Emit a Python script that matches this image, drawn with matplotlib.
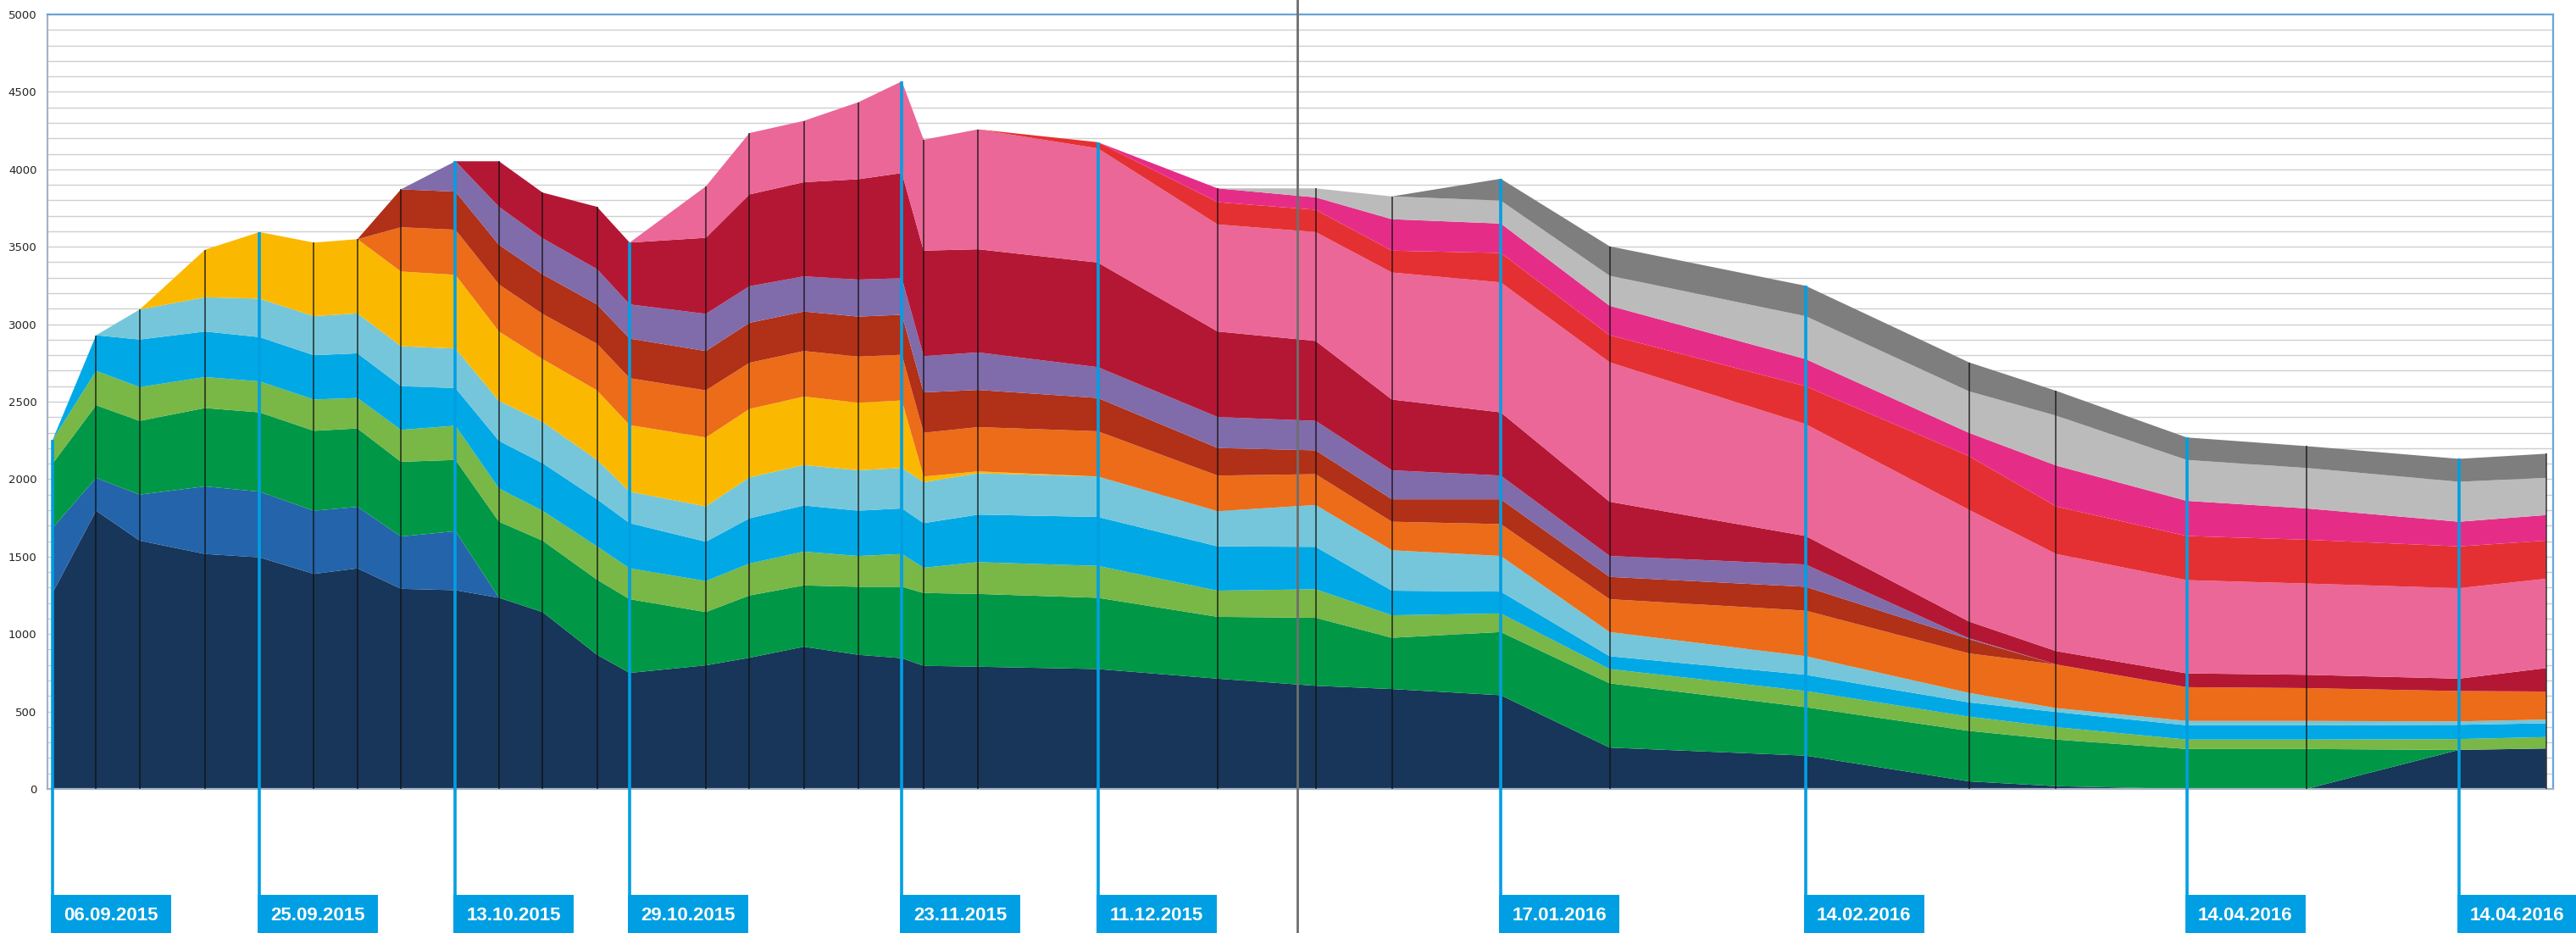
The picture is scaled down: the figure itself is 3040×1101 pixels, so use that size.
import numpy as np
import matplotlib
matplotlib.use('Agg')
import matplotlib.pyplot as plt
from matplotlib.patches import Rectangle
from matplotlib.lines import Line2D
from matplotlib.transforms import blended_transform_factory
from matplotlib import font_manager as fm

# ---------------- data ----------------
dates = ['2015-09-06', '2015-09-10', '2015-09-14', '2015-09-20', '2015-09-25',
         '2015-09-30', '2015-10-04', '2015-10-08', '2015-10-13', '2015-10-17',
         '2015-10-21', '2015-10-26', '2015-10-29', '2015-11-05', '2015-11-09',
         '2015-11-14', '2015-11-19', '2015-11-23', '2015-11-25', '2015-11-30',
         '2015-12-11', '2015-12-22', '2015-12-31', '2016-01-07', '2016-01-17',
         '2016-01-27', '2016-02-14', '2016-02-29', '2016-03-08', '2016-03-20',
         '2016-03-31', '2016-04-14', '2016-04-22']

navy = [1265, 1796, 1603, 1517, 1495, 1388, 1424, 1292, 1283, 1234,
        1142, 866, 749, 798, 847, 918, 866, 844, 795, 789,
        774, 712, 666, 645, 605, 267, 215, 49, 18, 0,
        0, 252, 261]
medblue = [420, 212, 297, 436, 424, 408, 397, 338, 381] + [0] * 24
green = [415, 469, 476, 506, 512, 516, 506, 482, 460, 491,
         461, 485, 476, 344, 402, 396, 439, 461, 470, 470,
         460, 399, 439, 331, 408, 415, 313, 326, 301, 258,
         258, 0, 0]
lgreen = [153, 222, 218, 200, 200, 202, 197, 206, 221, 215,
          193, 215, 199, 200, 206, 218, 199, 212, 163, 205,
          206, 169, 184, 145, 120, 92, 104, 92, 80, 61,
          61, 70, 74]
cyan = [0, 230, 307, 294, 286, 286, 288, 282, 243, 307,
        307, 304, 292, 254, 292, 298, 292, 294, 288, 307,
        316, 286, 274, 159, 141, 83, 105, 92, 98, 92,
        92, 92, 89]
lblue = [0, 0, 194, 221, 248, 252, 258, 258, 255, 258,
         267, 254, 203, 228, 264, 261, 261, 261, 264, 267,
         261, 227, 270, 261, 230, 156, 120, 61, 25, 28,
         28, 22, 24]
yellow = [0, 0, 0, 307, 430, 475, 479, 482, 476, 448,
          405, 449, 430, 445, 442, 442, 436, 436, 37, 12] + [0] * 13
orange = [0] * 7 + [286, 291, 304,
                    292, 301, 303, 304, 298, 294, 298, 295, 282, 286,
                    292, 230, 199, 184, 206, 212, 294, 255, 282, 218,
                    212, 196, 181]
brown = [0] * 7 + [245, 246, 255,
                   255, 254, 255, 254, 258, 255, 258, 258, 261, 240,
                   215, 178, 154, 145, 160, 144, 154, 92] + [0] * 5
purple = [0] * 8 + [196, 246,
                    233, 228, 221, 240, 236, 227, 239, 236, 234, 242,
                    199, 200, 190, 187, 153, 135, 144, 6] + [0] * 5
crimson = [0] * 9 + [294,
                     295, 402, 399, 491, 593, 608, 648, 679, 681, 666,
                     675, 552, 516, 457, 408, 350, 184, 108, 86, 89,
                     86, 80, 151]
pink = [0] * 13 + [332, 396, 396, 497, 592, 716, 774,
                   737, 691, 703, 820, 839, 900, 722, 721, 627, 602,
                   589, 584, 577]
red = [0] * 20 + [40, 144, 144, 141, 190, 175, 245, 347, 307, 285,
                  283, 270, 246]
magenta = [0] * 21 + [89, 80, 203, 190, 190, 175, 150, 264, 227,
                      202, 159, 165]
lgray = [0] * 22 + [58, 147, 148, 194, 277, 268, 322, 264,
                    261, 258, 240]
dgray = [0] * 24 + [141, 190, 196, 187, 160, 145,
                    141, 148, 156]

label_idx = [0, 4, 8, 12, 17, 20, 24, 26, 29, 31]
label_txt = ['06.09.2015', '25.09.2015', '13.10.2015', '29.10.2015', '23.11.2015',
             '11.12.2015', '17.01.2016', '14.02.2016', '14.04.2016', '14.04.2016']
marker_date = '2015-12-29T08:30'

series = [navy, medblue, green, lgreen, cyan, lblue, yellow, orange, brown,
          purple, crimson, pink, red, magenta, lgray, dgray]
colors = ['#173659', '#2364AB', '#009846', '#79B746', '#00A9E6', '#75C6DA',
          '#FAB900', '#EC6C19', '#B03018', '#806BAB', '#B41734', '#EA6797',
          '#E53033', '#E52D88', '#BBBBBB', '#7E7E7E']

# ---------------- figure ----------------
W, H = 3040, 1101
DPI = 100
fig = plt.figure(figsize=(W / DPI, H / DPI), dpi=DPI)
ax_l, ax_r, ax_t, ax_b = 56, 3013, 17, 931
ax = fig.add_axes([ax_l / W, 1 - ax_b / H, (ax_r - ax_l) / W, (ax_b - ax_t) / H])

t0 = np.datetime64('2015-09-06')
x = np.array([(np.datetime64(d) - t0) / np.timedelta64(1, 'D') for d in dates], dtype=float)
xm = (np.datetime64(marker_date) - t0) / np.timedelta64(1, 'm') / 1440.0

ax.stackplot(x, *series, colors=colors, linewidth=0, zorder=2)
totals = np.sum(np.array(series), axis=0)

ax.set_xlim(-0.47, 229.65)
ax.set_ylim(0, 5000)
ax.set_yticks(range(0, 5001, 500))
ax.set_yticks(range(0, 5001, 100), minor=True)
ax.set_xticks([])
ax.grid(True, which='both', axis='y', color='#CFCFCF', linewidth=1.0, zorder=0)
ax.set_axisbelow(True)
ax.tick_params(axis='y', which='both', length=0, pad=9, labelsize=9.5,
               labelcolor='#222222')

for s in ['top', 'right']:
    ax.spines[s].set_color('#6AA5D9')
    ax.spines[s].set_linewidth(1.6)
for s in ['left', 'bottom']:
    ax.spines[s].set_color('#A3B4C4')
    ax.spines[s].set_linewidth(1.6)

# black separators at each data point
mask = np.ones(len(x), bool)
mask[label_idx] = False
ax.vlines(x[mask], 0, totals[mask], colors='#101010', linewidth=1.1, zorder=3, alpha=0.85)

# year marker line across whole figure
bt = blended_transform_factory(ax.transData, fig.transFigure)
fig.add_artist(Line2D([xm, xm], [0, 1], transform=bt, color='#6E6E6E', linewidth=2.0,
                      zorder=5))

# date labels
if 'Liberation Sans Narrow' in {f.name for f in fm.fontManager.ttflist}:
    lab_fam, lab_fs = ['Liberation Sans Narrow', 'DejaVu Sans'], 18.5
else:
    lab_fam, lab_fs = ['Liberation Sans', 'DejaVu Sans'], 16

blue = '#009FE3'
fig.canvas.draw()
box_top = 1056
for i, txt in zip(label_idx, label_txt):
    ax.vlines(x[i], 0, totals[i], colors=blue, linewidth=2.6, zorder=4)
    fig.add_artist(Line2D([x[i], x[i]], [1 - ax_b / H, 1 - box_top / H], transform=bt,
                          color=blue, linewidth=2.6, zorder=4))
    xp = ax.transData.transform((x[i], 0))[0]
    left = xp - 2
    fig.add_artist(Rectangle((left / W, 0), 142 / W, (H - box_top) / H,
                             transform=fig.transFigure, facecolor=blue,
                             edgecolor='none', zorder=4))
    fig.text((left + 71) / W, 1 - 1080 / H, txt, color='white', fontsize=lab_fs,
             fontweight='bold', family=lab_fam, ha='center', va='center', zorder=6)

fig.savefig('out.png', dpi=DPI, facecolor='white')
